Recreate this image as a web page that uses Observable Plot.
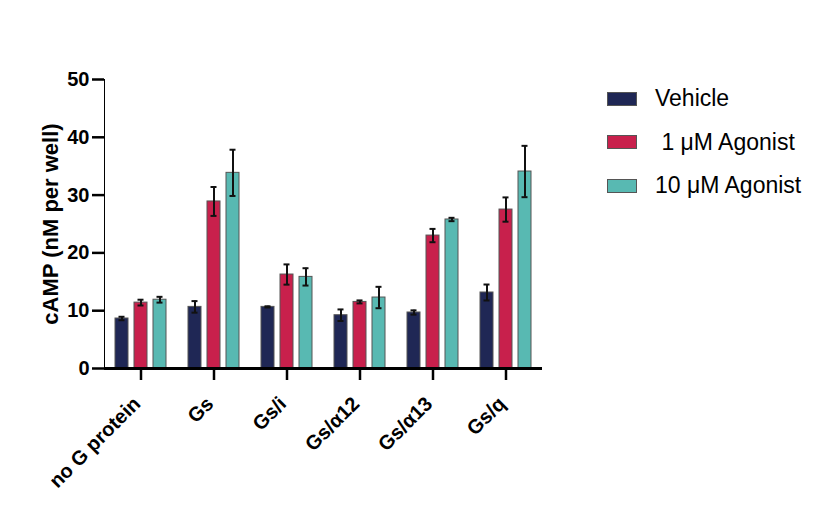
<!DOCTYPE html>
<html><head><meta charset="utf-8">
<script src="https://cdn.jsdelivr.net/npm/d3@7"></script>
<script src="https://cdn.jsdelivr.net/npm/@observablehq/plot@0.6"></script>
<style>
body{margin:0;background:#fff;font-family:"Liberation Sans",Arial,sans-serif;}
#wrap{position:relative;width:822px;height:525px;}
#legend{position:absolute;left:607px;top:77px;}
.row{display:flex;align-items:center;height:43.5px;font-size:23px;color:#000;}
.sw{width:28px;height:12px;border:1px solid #555;margin-right:18px;flex:none;}
svg [aria-label="y-axis tick"]{stroke-width:2.5px;}
svg [aria-label="y-axis label"] text{font-size:22px;}
</style></head><body><div id="wrap"><div id="chart"></div><div id="legend"></div></div>
<script>
const categories = ["no G protein","Gs","Gs/i","Gs/\u03b112","Gs/\u03b113","Gs/q"];
const series = ["Vehicle","\u00a01 \u03bcM Agonist","10 \u03bcM Agonist"];
const colors = ["#1f2755","#c8204c","#58b9b2"];
const vehicle = [8.65,10.66,10.66,9.22,9.69,13.15];
const vehicleErr = [0.3,1.0,0.1,1.0,0.37,1.38];
const agonist1 = [11.4,28.9,16.26,11.52,23.0,27.5];
const agonist1Err = [0.5,2.5,1.75,0.26,1.15,2.1];
const agonist10 = [11.9,33.85,15.85,12.28,25.78,34.08];
const agonist10Err = [0.5,4.0,1.5,1.85,0.29,4.44];
const yTicks = [0,10,20,30,40,50];

const values = [vehicle, agonist1, agonist10];
const errs = [vehicleErr, agonist1Err, agonist10Err];
const data = [];
categories.forEach((c, i) => series.forEach((s, j) => {
  data.push({cat: c, series: s, value: values[j][i], lo: values[j][i] - errs[j][i], hi: values[j][i] + errs[j][i]});
}));

const chart = Plot.plot({
  width: 822, height: 525,
  marginLeft: 107, marginRight: 280, marginTop: 79, marginBottom: 157,
  style: {fontFamily: "Liberation Sans, Arial, sans-serif", fontSize: "20px", fontWeight: "bold", color: "#000", background: "#fff"},
  fx: {domain: categories, padding: 0, range: [103.4, 542.6], label: null},
  x: {domain: series, paddingInner: 0.33, paddingOuter: 0.5, axis: null},
  y: {domain: [0, 50], ticks: yTicks, tickSize: 12, tickPadding: 3, line: true, label: "cAMP (nM per well)", labelAnchor: "center", labelArrow: "none", labelOffset: 62},
  color: {domain: series, range: colors},
  marks: [
    Plot.barY(data, {fx: "cat", x: "series", y: "value", fill: "series", stroke: "#555", strokeWidth: 1}),
    Plot.ruleX(data, {fx: "cat", x: "series", y1: "lo", y2: "hi", stroke: "#111", strokeWidth: 2}),
    Plot.tickY(data, {fx: "cat", x: "series", y: "lo", stroke: "#111", strokeWidth: 2, insetLeft: 3.5, insetRight: 3.5}),
    Plot.tickY(data, {fx: "cat", x: "series", y: "hi", stroke: "#111", strokeWidth: 2, insetLeft: 3.5, insetRight: 3.5}),
    Plot.ruleY([0], {stroke: "#000", strokeWidth: 3}),
    Plot.axisFx({anchor: "bottom", tickSize: 12, strokeWidth: 2.5, fill: "none", label: null}),
    Plot.axisFx({anchor: "bottom", tickSize: 0, stroke: "none", tickRotate: -45, tickPadding: 32, dx: -4, label: null})
  ]
});
document.getElementById("chart").appendChild(chart);

const legend = d3.select("#legend");
series.forEach((s, j) => {
  const row = legend.append("div").attr("class", "row");
  row.append("div").attr("class", "sw").style("background", colors[j]);
  row.append("span").text(s);
});
</script></body></html>
